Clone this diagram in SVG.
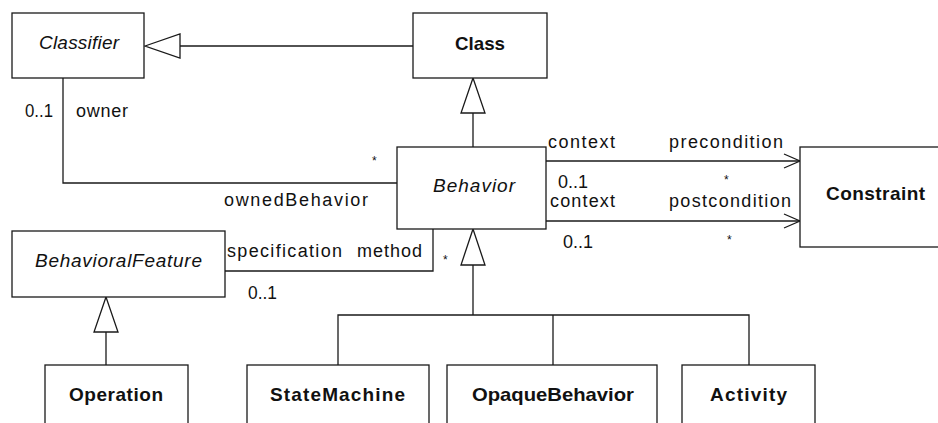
<svg xmlns="http://www.w3.org/2000/svg" width="938" height="423" viewBox="0 0 938 423">
<style>
.box{fill:#fff;stroke:#1a1a1a;stroke-width:1.3}
.ln{fill:none;stroke:#1a1a1a;stroke-width:1.3}
.tri{fill:#fff;stroke:#1a1a1a;stroke-width:1.3}
text{font-family:"Liberation Sans",Arial,sans-serif;fill:#111}
.n{font-size:19px;font-weight:bold;text-anchor:middle}
.a{font-size:19px;font-style:italic;text-anchor:middle}
.l{font-size:18px}
.s{font-size:12px}
</style>
<rect width="938" height="423" fill="#fff"/>
<g id="connectors">
  <line class="ln" x1="180" y1="46" x2="413" y2="46"/>
  <polygon class="tri" points="145,46 180,34 180,58"/>
  <line class="ln" x1="473" y1="113" x2="473" y2="147"/>
  <polygon class="tri" points="473,78 461,113 485,113"/>
  <polyline class="ln" points="63,78 63,183 397,183"/>
  <line class="ln" x1="546" y1="161" x2="800" y2="161"/>
  <polyline class="ln" points="784,154 800,161 784,168"/>
  <line class="ln" x1="546" y1="221" x2="800" y2="221"/>
  <polyline class="ln" points="784,214 800,221 784,228"/>
  <polyline class="ln" points="225,271 433,271 433,229"/>
  <line class="ln" x1="106" y1="332" x2="106" y2="365"/>
  <polygon class="tri" points="106,297 94,332 118,332"/>
  <polyline class="ln" points="473,265 473,315"/>
  <polyline class="ln" points="338,365 338,315 749,315 749,365"/>
  <line class="ln" x1="553" y1="315" x2="553" y2="365"/>
  <polygon class="tri" points="473,229 461,265 485,265"/>
  <text class="l" x="25" y="117" textLength="28" lengthAdjust="spacingAndGlyphs">0..1</text>
  <text class="l" x="76" y="117" textLength="52" lengthAdjust="spacing">owner</text>
  <text class="s" x="372" y="165">*</text>
  <text class="l" x="224" y="206" textLength="144" lengthAdjust="spacing">ownedBehavior</text>
  <text class="l" x="548" y="148" textLength="67" lengthAdjust="spacing">context</text>
  <text class="l" x="669" y="148" textLength="114" lengthAdjust="spacing">precondition</text>
  <text class="s" x="724" y="184">*</text>
  <text class="l" x="558" y="188" textLength="30" lengthAdjust="spacingAndGlyphs">0..1</text>
  <text class="l" x="550" y="207" textLength="65" lengthAdjust="spacing">context</text>
  <text class="l" x="669" y="207" textLength="122" lengthAdjust="spacing">postcondition</text>
  <text class="s" x="727" y="244">*</text>
  <text class="l" x="563" y="248" textLength="30" lengthAdjust="spacingAndGlyphs">0..1</text>
  <text class="l" x="227" y="257" textLength="115" lengthAdjust="spacing">specification</text>
  <text class="l" x="357" y="257" textLength="65" lengthAdjust="spacing">method</text>
  <text class="s" x="443" y="264">*</text>
  <text class="l" x="248" y="299" textLength="29" lengthAdjust="spacingAndGlyphs">0..1</text>
</g>
<g id="Classifier">
  <rect class="box" x="12" y="13" width="132" height="65"/>
  <text class="a" x="79" y="49" textLength="80" lengthAdjust="spacing">Classifier</text>
</g>
<g id="Class">
  <rect class="box" x="413" y="13" width="134" height="65"/>
  <text class="n" x="480" y="50" textLength="50" lengthAdjust="spacingAndGlyphs">Class</text>
</g>
<g id="Behavior">
  <rect class="box" x="397" y="147" width="149" height="82"/>
  <text class="a" x="474" y="191.5" textLength="82" lengthAdjust="spacing">Behavior</text>
</g>
<g id="Constraint">
  <rect class="box" x="800" y="147" width="160" height="100"/>
  <text class="n" x="875.5" y="200" textLength="99" lengthAdjust="spacing">Constraint</text>
</g>
<g id="BehavioralFeature">
  <rect class="box" x="12" y="231" width="213" height="66"/>
  <text class="a" x="118.5" y="267" textLength="167" lengthAdjust="spacing">BehavioralFeature</text>
</g>
<g id="Operation">
  <rect class="box" x="45" y="365" width="143" height="80"/>
  <text class="n" x="116" y="401" textLength="94" lengthAdjust="spacing">Operation</text>
</g>
<g id="StateMachine">
  <rect class="box" x="247" y="365" width="182" height="80"/>
  <text class="n" x="337.5" y="401" textLength="135" lengthAdjust="spacing">StateMachine</text>
</g>
<g id="OpaqueBehavior">
  <rect class="box" x="447" y="365" width="210" height="80"/>
  <text class="n" x="553" y="401" textLength="162" lengthAdjust="spacingAndGlyphs">OpaqueBehavior</text>
</g>
<g id="Activity">
  <rect class="box" x="682" y="365" width="133" height="80"/>
  <text class="n" x="748.5" y="401" textLength="77" lengthAdjust="spacing">Activity</text>
</g>
</svg>
